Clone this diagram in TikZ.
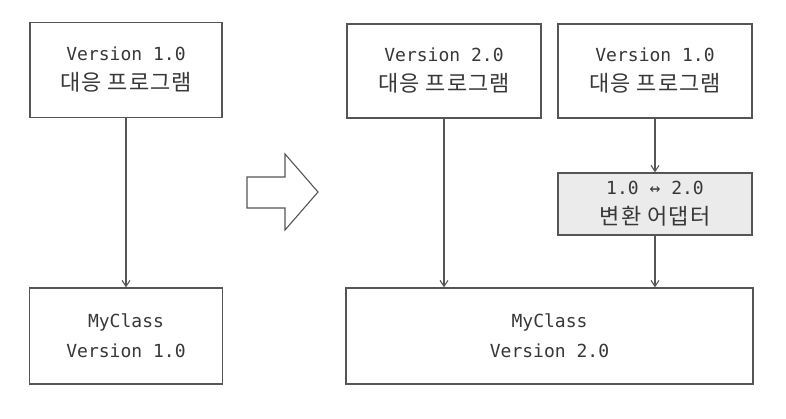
\documentclass[tikz,border=0pt]{standalone}
\usepackage{fontspec}
\setmonofont{DejaVu Sans Mono}
\newfontfamily\krfont{Noto Sans CJK KR}[LetterSpace=5]
\usetikzlibrary{arrows.meta,positioning}

\definecolor{cline}{RGB}{85,85,85}
\definecolor{ctext}{RGB}{55,55,55}
\definecolor{cfill}{RGB}{235,235,235}
\newcommand{\hangul}[1]{{\krfont\fontsize{22}{30}\selectfont #1}}

\begin{document}
\begin{tikzpicture}[
  x=1pt, y=-1pt,
  >={Straight Barb[length=6pt,width=8pt]},
  box/.style={draw=cline, line width=1.3pt, align=center, text=ctext, inner sep=0pt,
    font=\ttfamily\fontsize{18}{30}\selectfont},
  adapt/.style={box, fill=cfill},
  link/.style={->, draw=cline, line width=1.1pt},
  bigarrow/.style={draw=cline, line width=1.1pt, fill=white, line join=miter}
]
\useasboundingbox (0,0) rectangle (786,418);

\node[box, minimum width=192pt, minimum height=95pt] (v1) at (126,70) {Version 1.0\\\hangul{대응 프로그램}};
\node[box, minimum width=193pt, minimum height=96pt] (c1) at (126,336) {MyClass\\Version 1.0};

\node[box, minimum width=194pt, minimum height=94pt] (v2) at (444,71) {Version 2.0\\\hangul{대응 프로그램}};
\node[box, minimum width=194pt, minimum height=94pt] (v1b) at (655,71) {Version 1.0\\\hangul{대응 프로그램}};
\node[adapt, minimum width=194pt, minimum height=62pt] (ad) at (655,204) {1.0 ↔ 2.0\\\hangul{변환 어댑터}};
\node[box, minimum width=407pt, minimum height=96pt] (c2) at (549.5,336) {MyClass\\Version 2.0};

\draw[link] (v1) -- (c1);
\draw[link] (v2.south) -- (v2.south |- c2.north);
\draw[link] (v1b) -- (ad);
\draw[link] (ad.south) -- (ad.south |- c2.north);

\draw[bigarrow] (247,177) -- (285,177) -- (285,154) -- (318,192) -- (285,230) -- (285,208) -- (247,208) -- cycle;

\end{tikzpicture}
\end{document}
